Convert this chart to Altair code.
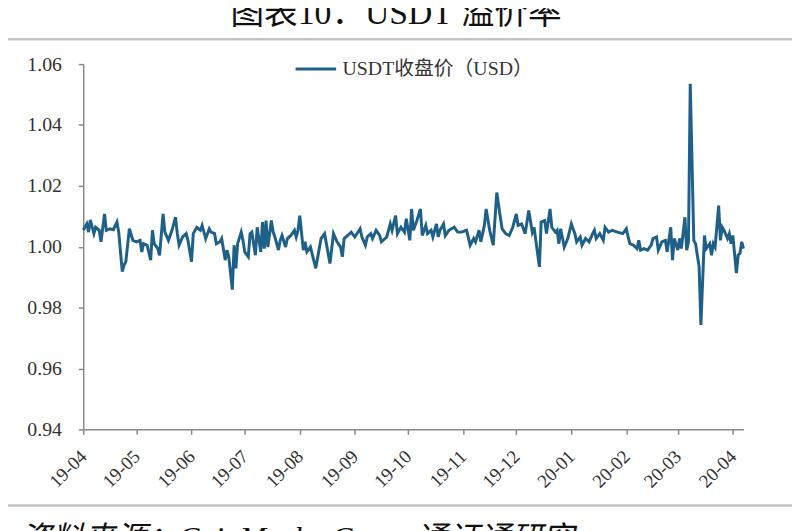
import altair as alt
import pandas as pd

title_text = "图表10：USDT 溢价率"
source_text = "资料来源：CoinMarketCap，通证通研究"
series_name = "USDT收盘价（USD）"
start_date = "2019-04-01"

day_offsets = [
    0, 2, 3, 4, 6, 7, 9, 10, 12, 13, 15, 17, 19, 20, 22, 23, 24, 26, 28, 30,
    32, 33, 34, 36, 38, 39, 40, 42, 43, 45, 46, 48, 50, 52, 53, 54, 56, 58, 59, 61,
    62, 64, 66, 67, 69, 71, 72, 74, 75, 77, 78, 80, 81, 82, 84, 85, 86, 87, 89, 90,
    91, 93, 94, 95, 97, 98, 100, 101, 102, 103, 104, 106, 107, 108, 110, 111, 112, 114, 115, 117,
    119, 120, 121, 122, 124, 125, 126, 128,
    131, 134, 136, 139, 141, 143, 145, 146, 147, 149, 151, 153, 156, 157, 159, 160, 162, 163, 165, 167,
    168, 171, 173, 174, 176, 177, 179, 181, 182, 184, 185, 186, 188, 190, 191, 193, 194, 196, 197, 199,
    200, 201, 203, 204, 206, 209, 211, 213, 216, 218, 220, 221, 223, 224, 226, 227, 229, 231, 233, 235,
    236, 238, 240, 242, 244, 245, 247, 249, 251, 253, 254,
    257, 258, 260, 261, 263, 264, 266, 267, 268, 269, 271, 273, 275, 277, 278, 280, 281, 283, 285, 287,
    288, 289, 291, 293, 294, 296, 298, 301, 304, 306, 307, 308, 310, 312, 313, 314, 316, 318, 320, 321,
    323, 324, 326, 328, 329, 331, 332, 333, 335, 336, 337, 339, 340, 341, 342, 344, 345, 347, 348, 350,
    351, 353, 354, 355, 356, 358, 359, 360, 361, 363, 364, 365, 366, 368, 369, 370, 371, 372,
]

close_usd = [
    1.0055, 1.0075, 1.0048, 1.0088, 1.0043, 1.0064, 1.0054, 1.0016, 1.0108, 1.0054, 1.0059, 1.0056, 1.0081, 1.0048, 0.9918, 0.9940, 0.9951, 1.0059, 1.0021, 1.0016,
    1.0021, 0.9983, 1.0010, 1.0005, 0.9956, 1.0054, 1.0010, 0.9994, 0.9972, 1.0108, 1.0048, 1.0021, 1.0054, 1.0097, 1.0043, 1.0005, 1.0032, 1.0043, 1.0021, 0.9951,
    1.0043, 1.0064, 1.0054, 1.0070, 1.0027, 1.0059, 1.0048, 1.0043, 1.0010, 1.0016, 1.0027, 0.9956, 0.9989, 0.9967, 0.9859, 1.0005, 0.9929, 1.0010, 1.0048, 1.0021,
    0.9983, 0.9967, 1.0043, 1.0048, 0.9972, 1.0064, 0.9983, 1.0081, 0.9994, 1.0086, 0.9999, 1.0086, 1.0048, 1.0032, 0.9989, 1.0021, 1.0037, 0.9999, 1.0027, 1.0037,
    1.0054, 1.0032, 1.0054, 1.0102, 0.9989, 1.0016, 0.9983, 0.9999,
    0.9929, 1.0027, 1.0043, 0.9945, 1.0043, 1.0016, 0.9999, 0.9967, 1.0027, 1.0037, 1.0048, 1.0032, 1.0059, 1.0032, 1.0005, 1.0032, 1.0043, 1.0027, 1.0054, 1.0037,
    1.0016, 1.0032, 1.0075, 1.0054, 1.0102, 1.0043, 1.0064, 1.0048, 1.0092, 1.0021, 1.0124, 1.0054, 1.0086, 1.0124, 1.0037, 1.0070, 1.0043, 1.0054, 1.0032, 1.0075,
    1.0032, 1.0054, 1.0075, 1.0037, 1.0054, 1.0064, 1.0048, 1.0048, 1.0054, 1.0005, 1.0027, 1.0016, 1.0054, 1.0016, 1.0070, 1.0124, 1.0054, 1.0005, 1.0178, 1.0097,
    1.0059, 1.0043, 1.0037, 1.0064, 1.0108, 1.0070, 1.0075, 1.0043, 1.0119, 1.0048, 1.0064,
    0.9934, 1.0081, 1.0086, 1.0043, 1.0124, 1.0064, 1.0048, 1.0054, 1.0010, 1.0059, 0.9999, 1.0027, 1.0075, 1.0043, 1.0016, 1.0032, 1.0005, 1.0027, 1.0016, 1.0043,
    1.0054, 1.0027, 1.0043, 1.0021, 1.0064, 1.0048, 1.0054, 1.0048, 1.0043, 1.0059, 1.0032, 1.0010, 1.0005, 0.9994, 1.0021, 0.9989, 0.9994, 0.9989, 1.0005, 1.0027,
    1.0032, 0.9989, 1.0016, 1.0021, 0.9983, 1.0064, 0.9956, 1.0027, 0.9989, 1.0027, 0.9994, 1.0097, 0.9989, 1.0016, 1.0535, 1.0021, 1.0010, 0.9934, 0.9743, 1.0037,
    0.9994, 1.0010, 0.9972, 1.0010, 0.9999, 1.0135, 1.0021, 1.0064, 1.0054, 1.0027, 1.0043, 1.0010, 1.0037, 0.9913, 0.9972, 0.9978, 1.0016, 0.9994,
]

tick_months = [
    "2019-04-01", "2019-05-01", "2019-06-01", "2019-07-01", "2019-08-01", "2019-09-01", "2019-10-01",
    "2019-11-01", "2019-12-01", "2020-01-01", "2020-02-01", "2020-03-01", "2020-04-01",
]
x_domain = ["2019-04-01", "2020-04-07"]
y_ticks = [0.94, 0.96, 0.98, 1.00, 1.02, 1.04, 1.06]

SERIF = "Liberation Serif, Noto Sans CJK SC, serif"
LINE_COLOR = "#1f6089"
AXIS_COLOR = "#8a8a8a"

dates = pd.Timestamp(start_date) + pd.to_timedelta(day_offsets, unit="D")
df = pd.DataFrame({"date": dates, "close": close_usd, "series": series_name})


def dt(s):
    t = pd.Timestamp(s)
    return alt.DateTime(year=t.year, month=t.month, date=t.day)


line = alt.Chart(df).mark_line(strokeWidth=3).encode(
    x=alt.X(
        "date:T",
        title=None,
        scale=alt.Scale(domain=[dt(d) for d in x_domain], nice=False),
        axis=alt.Axis(
            values=[dt(d) for d in tick_months],
            format="%y-%m",
            labelAngle=-45,
            labelAlign="right",
            labelBaseline="middle",
            labelPadding=19,
            tickSize=5,
            grid=False,
        ),
    ),
    y=alt.Y(
        "close:Q",
        title=None,
        scale=alt.Scale(domain=[0.94, 1.06], nice=False, zero=False),
        axis=alt.Axis(values=y_ticks, format=".2f", tickSize=5, labelPadding=17, grid=False),
    ),
    color=alt.Color(
        "series:N",
        scale=alt.Scale(range=[LINE_COLOR]),
        legend=alt.Legend(
            title=None,
            orient="none",
            legendX=213,
            legendY=-17,
            symbolType="stroke",
            symbolSize=1681,
            symbolStrokeWidth=3,
            labelFont=SERIF,
            labelFontSize=20,
            labelColor="#333333",
            labelOffset=5,
            labelLimit=0,
            padding=0,
        ),
    ),
)

title_df = pd.DataFrame({"t": [title_text]})
title = alt.Chart(title_df).mark_text(
    font=SERIF, fontSize=34, color="#111111", align="center", baseline="alphabetic"
).encode(text="t:N", x=alt.value(316), y=alt.value(-41))

source_df = pd.DataFrame({"t": [source_text]})
source = alt.Chart(source_df).mark_text(
    font=SERIF, fontSize=32, fontStyle="italic", color="#111111", align="left", baseline="top"
).encode(text="t:N", x=alt.value(-64), y=alt.value(465))

top_rule = alt.Chart(title_df).mark_rule(color="#c4c4c4", strokeWidth=2.5).encode(
    x=alt.value(-76), x2=alt.value(716), y=alt.value(-25)
)
bottom_rule = alt.Chart(title_df).mark_rule(color="#c4c4c4", strokeWidth=2.5).encode(
    x=alt.value(-76), x2=alt.value(716), y=alt.value(446)
)

chart = alt.layer(top_rule, bottom_rule, title, source, line).properties(
    width=667,
    height=369,
    padding={"left": 76, "top": 54, "right": 49, "bottom": 100},
    autosize=alt.AutoSizeParams(type="none"),
).configure_view(stroke=None).configure_axis(
    domainColor=AXIS_COLOR,
    domainWidth=1.5,
    tickColor=AXIS_COLOR,
    tickWidth=1.5,
    labelFont=SERIF,
    labelFontSize=20,
    labelColor="#333333",
).configure_axisX(labelFontSize=19)

chart.save("out.html", embed_options={"renderer": "svg", "actions": False})
